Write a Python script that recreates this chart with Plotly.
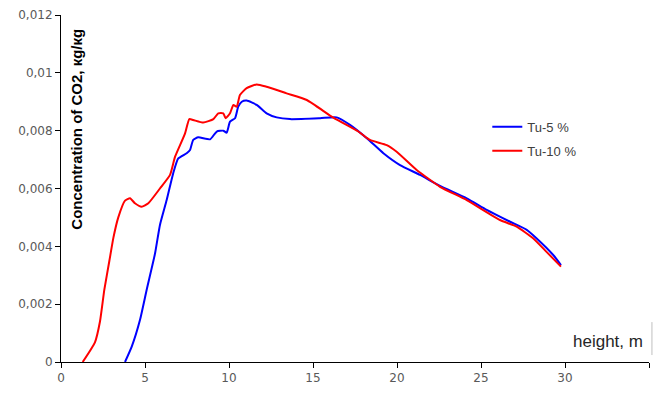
import plotly.graph_objects as go

# Tu-5 % series
x_tu5 = [3.81, 4.21, 4.70, 5.10, 5.60, 5.89, 6.29, 6.68, 6.98, 7.48, 7.68, 7.87, 8.17, 8.87,
         9.27, 9.66, 9.86, 10.06, 10.36, 10.55, 10.76, 11.05, 11.65, 12.24, 12.84, 13.63,
         15.42, 16.41, 17.2, 18.2, 19.19, 20.18, 21.37, 22.56, 24.15, 25.34, 26.73, 27.72,
         28.3, 29.3, 29.76]
y_tu5 = [0, 0.00053, 0.00145, 0.0025, 0.00376, 0.00474, 0.0056, 0.00653, 0.00704, 0.00722,
         0.00733, 0.00768, 0.00777, 0.0077, 0.00797, 0.008, 0.00793, 0.00831, 0.00843, 0.00883,
         0.009, 0.00904, 0.00889, 0.0086, 0.00846, 0.0084, 0.00843, 0.00846, 0.0082, 0.00774,
         0.00722, 0.00681, 0.00647, 0.00609, 0.00566, 0.00526, 0.00485, 0.00457, 0.00428,
         0.0037, 0.00335]

# Tu-10 % series
x_tu10 = [1.29, 2.02, 2.32, 2.58, 2.88, 3.12, 3.41, 3.81, 4.11, 4.40, 4.80, 5.20, 5.89, 6.49,
          6.79, 7.38, 7.64, 7.87, 8.47, 9.07, 9.36, 9.66, 9.80, 10.06, 10.26, 10.46, 10.65,
          11.05, 11.65, 12.24, 13.43, 14.63, 16.21, 17.7, 18.39, 19.39, 19.98, 21.17, 22.56,
          24.15, 26.13, 27.12, 28.1, 28.9, 29.76]
y_tu10 = [0, 0.00068, 0.0014, 0.0025, 0.0035, 0.0043, 0.0050, 0.00558, 0.00566, 0.00549,
          0.00537, 0.00549, 0.00600, 0.00647, 0.0071, 0.0079, 0.0084, 0.00837, 0.00828, 0.0084,
          0.0086, 0.0086, 0.00843, 0.0086, 0.00889, 0.00883, 0.00923, 0.00947, 0.0096, 0.00952,
          0.00929, 0.00906, 0.00845, 0.00797, 0.00768, 0.0075, 0.00727, 0.00664, 0.00606,
          0.0056, 0.00491, 0.00468, 0.00428, 0.00381, 0.0033]

x_ticks = [0, 5, 10, 15, 20, 25, 30, 35]
y_ticks = [0, 0.002, 0.004, 0.006, 0.008, 0.01, 0.012]
y_ticktext = ["0", "0,002", "0,004", "0,006", "0,008", "0,01", "0,012"]

fig = go.Figure()
fig.add_trace(go.Scatter(x=x_tu5, y=y_tu5, mode="lines", name="Tu-5 %",
                         line=dict(color="#0000FF", width=2, shape="spline", smoothing=0.5),
                         legendgroup="a"))
fig.add_trace(go.Scatter(x=x_tu10, y=y_tu10, mode="lines", name="Tu-10 %",
                         line=dict(color="#FF0000", width=2, shape="spline", smoothing=0.5),
                         legendgroup="b"))

tickfont = dict(family="DejaVu Sans", size=12, color="#595959")
fig.update_layout(
    width=654, height=397,
    margin=dict(l=61, r=5, t=15, b=35),
    paper_bgcolor="white", plot_bgcolor="white",
    showlegend=True,
    legend=dict(x=0.725, y=0.721, xanchor="left", yanchor="top",
                font=dict(family="Liberation Sans", size=13, color="#404040"),
                bgcolor="rgba(0,0,0,0)", traceorder="grouped", tracegroupgap=4),
    xaxis=dict(range=[0, 35], tickvals=x_ticks, showline=True, linecolor="black",
               linewidth=1, ticks="outside", ticklen=5, tickcolor="black",
               showgrid=False, zeroline=False, tickfont=tickfont),
    yaxis=dict(range=[0, 0.012], tickvals=y_ticks, ticktext=y_ticktext, showline=True,
               linecolor="black", linewidth=1, ticks="outside", ticklen=5,
               tickcolor="black", showgrid=False, zeroline=False, tickfont=tickfont),
)

fig.add_annotation(text="<b>Concentration of CO2, кg/кg</b>", xref="paper", yref="paper",
                   x=0.027, y=0.672, textangle=-90, showarrow=False,
                   font=dict(family="Liberation Sans", size=15, color="black"),
                   xanchor="center", yanchor="middle")
fig.add_annotation(text="height, m", xref="paper", yref="paper",
                   x=0.994, y=0.06, showarrow=False, xanchor="right", yanchor="middle",
                   font=dict(family="Liberation Sans", size=17, color="#262626"))
fig.add_shape(type="line", xref="paper", yref="paper", x0=1.005, x1=1.005,
              y0=0.02, y1=0.115, line=dict(color="#BFBFBF", width=1))

fig.write_html("out.html")
